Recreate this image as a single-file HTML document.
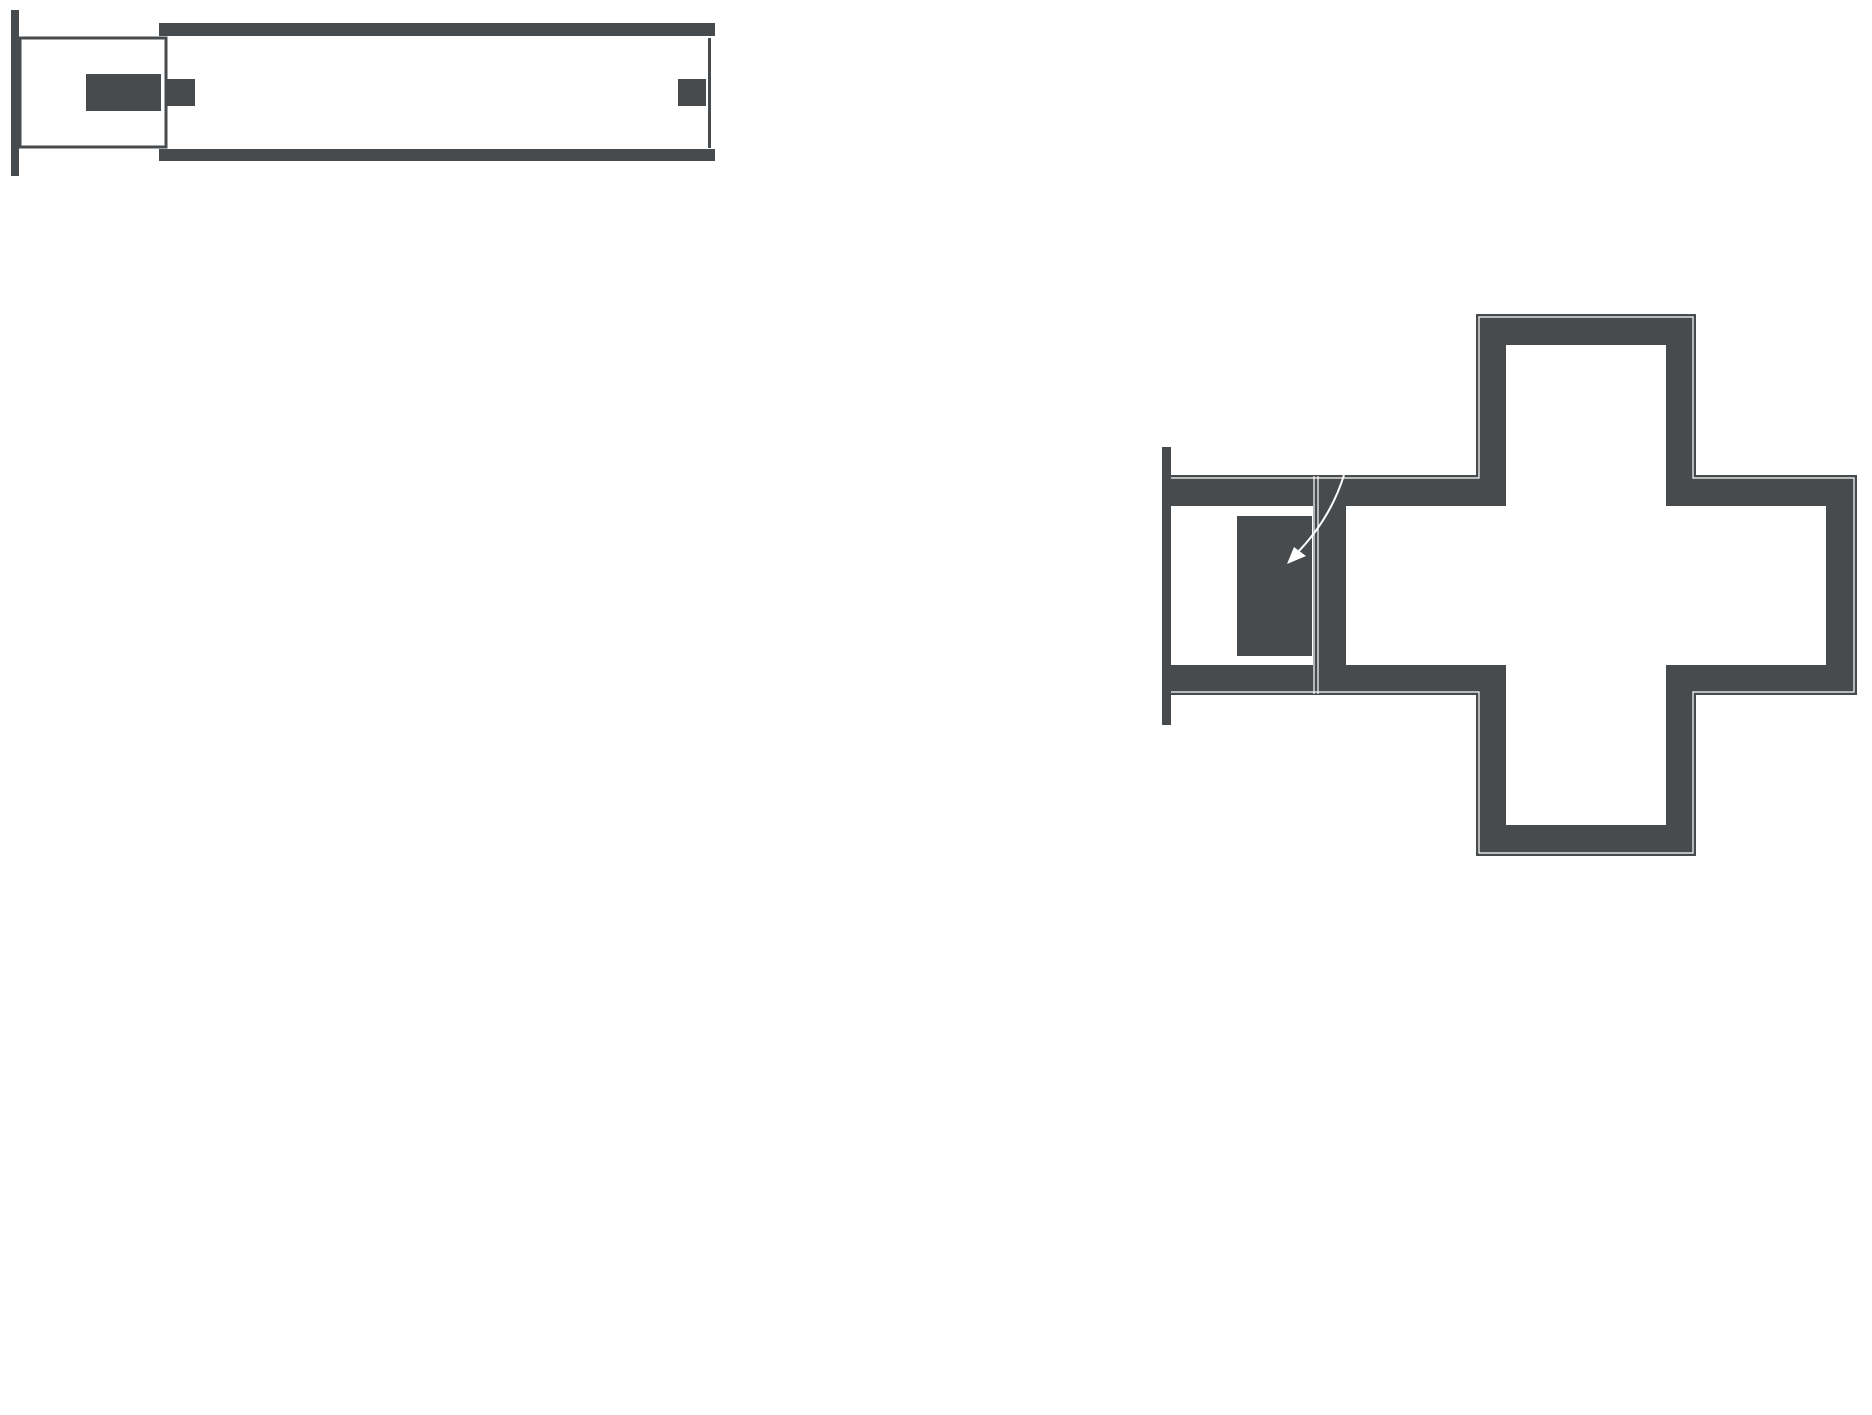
<!DOCTYPE html>
<html><head><style>html,body{margin:0;padding:0;background:#fff;}svg{display:block}</style></head>
<body>
<svg width="1872" height="1415" viewBox="0 0 1872 1415" xmlns="http://www.w3.org/2000/svg">
<g fill="#484b4e">
<!-- top diagram -->
<rect x="11" y="10" width="8" height="166"/>
<rect x="159" y="23" width="556" height="13"/>
<rect x="159" y="149" width="556" height="12"/>
<rect x="20" y="38" width="146" height="109" fill="none" stroke="#484b4e" stroke-width="3"/>
<rect x="86" y="74" width="75" height="37"/>
<rect x="167" y="79" width="28" height="27"/>
<rect x="678" y="79" width="28" height="27"/>
<rect x="708" y="38" width="3" height="110"/>
<!-- cross diagram -->
<rect x="1162" y="447" width="9" height="278"/>
<path fill-rule="evenodd" d="M1171 475 H1476 V314 H1696 V475 H1857 V695 H1696 V856 H1476 V695 H1171 V665 H1313 V506 H1171 Z
 M1346 506 V665 H1506 V825 H1666 V665 H1826 V506 H1666 V345 H1506 V506 Z"/>
<rect x="1237" y="516" width="75" height="140"/>
</g>
<g fill="none" stroke="#fff" stroke-width="1.2">
<path d="M1171 478 H1479 V317 H1693 V478 H1854 V692 H1693 V853 H1479 V692 H1171"/>
<line x1="1314" y1="476" x2="1314" y2="694"/>
<line x1="1318" y1="476" x2="1318" y2="694"/>
<path d="M1344 475 Q1330 520 1295 555" stroke-width="2"/>
</g>
<polygon points="1287,564 1294,547 1306,556" fill="#fff"/>
</svg>
</body></html>
